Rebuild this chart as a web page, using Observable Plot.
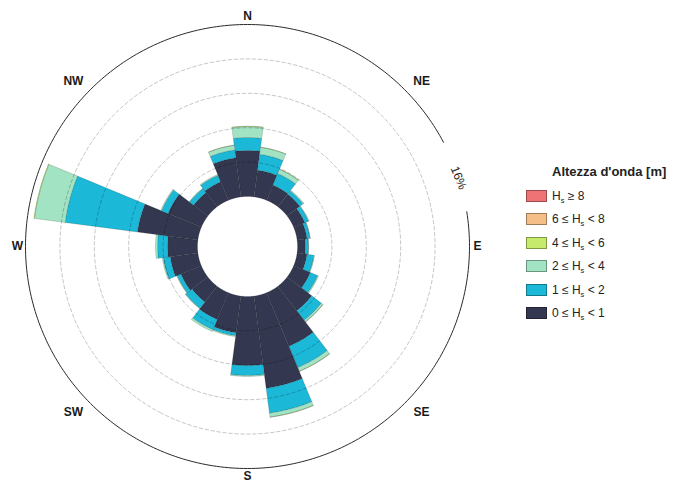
<!DOCTYPE html>
<html>
<head>
<meta charset="utf-8">
<script src="https://cdn.jsdelivr.net/npm/d3@7"></script>
<script src="https://cdn.jsdelivr.net/npm/@observablehq/plot@0.6"></script>
<style>
  html, body { margin: 0; padding: 0; background: #fff; }
  #wrap { position: relative; width: 676px; height: 482px; overflow: hidden;
          font-family: "Liberation Sans", Arial, Helvetica, sans-serif; color: #222; }
  #chart svg { display: block; }
  #legend { position: absolute; left: 0; top: 0; width: 676px; height: 482px; pointer-events: none; }
  #legend .ttl { position: absolute; left: 552px; top: 164px; font-size: 13px; font-weight: bold; white-space: nowrap; }
  #legend .sw { position: absolute; left: 526px; width: 19px; height: 10px; border: 1px solid rgba(0,0,0,0.35); }
  #legend .lb { position: absolute; left: 552px; font-size: 12px; line-height: 12px; white-space: nowrap; }
  #legend sub { font-size: 7.5px; vertical-align: -3px; line-height: 0; }
</style>
</head>
<body>
<div id="wrap">
  <div id="chart"></div>
  <div id="legend"></div>
</div>
<script>
// Wave directions (degrees clockwise from north), 15° sectors
const directions = [0, 15, 30, 45, 60, 75, 90, 105, 120, 135, 150, 165,
                    180, 195, 210, 225, 240, 255, 270, 285, 300, 315, 330, 345];

// Frequency of occurrence (%) per direction, one array per wave-height class
const hs0to1 = [4.28, 2.51, 1.53, 1.49, 1.12, 0.93, 0.74, 0.93, 1.67, 2.88, 5.40, 8.65,
                6.42, 3.44, 2.70, 1.86, 2.05, 2.60, 2.79, 5.67, 3.35, 1.67, 1.86, 3.67];
const hs1to2 = [1.21, 1.49, 1.16, 0.37, 0.37, 0.28, 0.28, 0.65, 0.74, 1.12, 2.14, 2.33,
                0.93, 0.28, 1.02, 0.74, 0.37, 0.65, 0.93, 6.79, 0.65, 0.47, 0.65, 0.74];
const hs2to4 = [1.02, 0.65, 0.43, 0.09, 0.05, 0.03, 0.02, 0.05, 0.09, 0.19, 0.37, 0.37,
                0.09, 0.09, 0.19, 0.05, 0.05, 0.09, 0.19, 2.88, 0.09, 0.05, 0.09, 0.43];
const hs4to6 = [0.04, 0.02, 0.02, 0, 0, 0, 0, 0, 0, 0.01, 0.02, 0.02,
                0, 0, 0, 0, 0, 0, 0, 0.05, 0, 0, 0, 0.02];
const hs6to8 = [0, 0, 0, 0, 0, 0, 0, 0, 0, 0, 0, 0,
                0, 0, 0, 0, 0, 0, 0, 0, 0, 0, 0, 0];
const hs8up  = [0, 0, 0, 0, 0, 0, 0, 0, 0, 0, 0, 0,
                0, 0, 0, 0, 0, 0, 0, 0, 0, 0, 0, 0];

// Classes, stacked from the centre outwards
const classKeys   = ["0-1", "1-2", "2-4", "4-6", "6-8", ">=8"];
const classSeries = [hs0to1, hs1to2, hs2to4, hs4to6, hs6to8, hs8up];
const classColors = ["#333850", "#1cb8d8", "#a2e3c3", "#c6ea6b", "#f5be88", "#ef7275"];
const classLabels = ["0 ≤ H<sub>s</sub> &lt; 1", "1 ≤ H<sub>s</sub> &lt; 2", "2 ≤ H<sub>s</sub> &lt; 4",
                     "4 ≤ H<sub>s</sub> &lt; 6", "6 ≤ H<sub>s</sub> &lt; 8", "H<sub>s</sub> ≥ 8"];
const legendTitle = "Altezza d'onda [m]";

// Compass labels and frequency rings (%)
const compassNames    = ["N", "NE", "E", "SE", "S", "SW", "W", "NW"];
const compassBearings = [0, 45, 90, 135, 180, 225, 270, 315];
const ringValues = [3.2, 6.4, 9.6, 12.8];
const maxValue = 16;
const maxLabel = "16%";

// ---- polar layout on an azimuthal projection centred on the pole ----
const CX = 247, CY = 246;          // centre of the rose
const R_HOLE = 50, R_OUT = 222;    // inner empty disc and outer ring, px
const PX_PER_DEG = 3;
const projection = d3.geoAzimuthalEquidistant()
  .rotate([0, -90])
  .translate([CX, CY])
  .scale(PX_PER_DEG * 180 / Math.PI)
  .precision(0.1);

const radiusPx = v => R_HOLE + v * (R_OUT - R_HOLE) / maxValue;
const latPx = px => 90 - px / PX_PER_DEG;
const lat = v => latPx(radiusPx(v));
const lon = bearing => 180 - bearing;
const HALF = 7.5;

// Annular sector between two cumulative frequencies (clockwise ring)
function sector(bearing, v0, v1) {
  const a0 = lon(bearing + HALF), a1 = lon(bearing - HALF);
  const hi = lat(v0), lo = lat(v1);
  const n = 30, ring = [[a0, lo], [a0, hi]];
  for (let i = 1; i <= n; i++) ring.push([a0 + (a1 - a0) * i / n, hi]);
  ring.push([a1, lo]);
  for (let i = n - 1; i >= 0; i--) ring.push([a0 + (a1 - a0) * i / n, lo]);
  return {type: "Feature", properties: {}, geometry: {type: "Polygon", coordinates: [ring]}};
}

const bars = [];
directions.forEach((dir, i) => {
  let acc = 0;
  classSeries.forEach((series, k) => {
    const v = series[i];
    if (v > 0) {
      const f = sector(dir, acc, acc + v);
      f.properties.cls = classKeys[k];
      bars.push(f);
    }
    acc += v;
  });
});

const rings = ringValues.map(v =>
  d3.geoCircle().center([0, 90]).radius(radiusPx(v) / PX_PER_DEG).precision(1)());

// outer ring, interrupted where the scale label sits
const outerRing = [{type: "LineString",
  coordinates: d3.range(81, 422.5, 1).map(b => [lon(b), latPx(R_OUT)])}];

// cardinal names sit just outside the ring; intercardinal ones a little further,
// nudged away from the north-south axis
const compass = compassNames.map((name, i) => {
  const b = compassBearings[i];
  const cardinal = b % 90 === 0;
  const side = cardinal ? 0 : (b < 90 || b > 180 && b < 270 ? 1 : -1);
  return {name, bearing: b + 1.5 * side, r: R_OUT + (cardinal ? 8 : 18)};
});

const chart = Plot.plot({
  width: 676,
  height: 482,
  margin: 0,
  projection,
  color: {domain: classKeys, range: classColors},
  marks: [
    Plot.geo(bars, {
      fill: d => d.properties.cls,
      stroke: "#000",
      strokeOpacity: 0.28,
      strokeWidth: 0.5
    }),
    Plot.geo(rings, {fill: "none", stroke: "#000", strokeOpacity: 0.25, strokeWidth: 0.9, strokeDasharray: "3.5,2.5"}),
    Plot.geo(outerRing, {fill: "none", stroke: "#2a2a2a", strokeWidth: 1}),
    Plot.text(compass, {
      x: d => lon(d.bearing),
      y: d => latPx(d.r),
      text: "name",
      fontSize: 12,
      fontWeight: "bold",
      fill: "#1a1a1a",
      fontFamily: "Liberation Sans, Arial, sans-serif"
    }),
    Plot.text([maxLabel], {
      x: lon(72),
      y: latPx(R_OUT),
      text: d => d,
      rotate: 68,
      fontSize: 12,
      fill: "#222",
      fontFamily: "Liberation Sans, Arial, sans-serif"
    })
  ]
});
document.getElementById("chart").appendChild(chart);

// ---- legend (largest class on top) ----
const legend = document.getElementById("legend");
const ttl = document.createElement("div");
ttl.className = "ttl";
ttl.textContent = legendTitle;
legend.appendChild(ttl);
const ROW0 = 190, ROW_STEP = 23.4;
for (let j = 0; j < classKeys.length; j++) {
  const k = classKeys.length - 1 - j;
  const top = ROW0 + j * ROW_STEP;
  const sw = document.createElement("div");
  sw.className = "sw";
  sw.style.top = top + "px";
  sw.style.background = classColors[k];
  legend.appendChild(sw);
  const lb = document.createElement("div");
  lb.className = "lb";
  lb.style.top = top + "px";
  lb.innerHTML = classLabels[k];
  legend.appendChild(lb);
}
</script>
</body>
</html>
